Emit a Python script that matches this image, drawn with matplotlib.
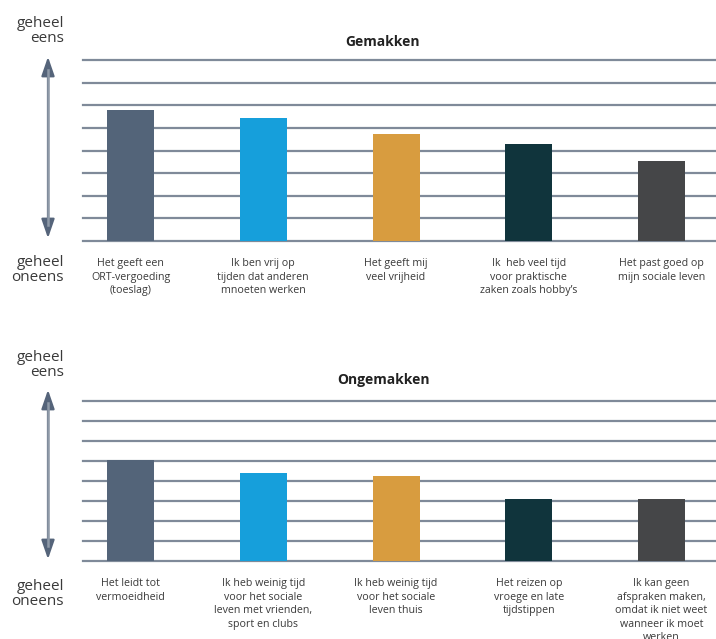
import matplotlib.pyplot as plt
from matplotlib.patches import FancyArrowPatch
from matplotlib.lines import Line2D

plt.rcParams['font.family'] = ['Open Sans', 'DejaVu Sans']

# data (scale 0..8, "geheel oneens" -> "geheel eens")
gem_labels = ['Het geeft een\nORT-vergoeding\n(toeslag)',
              'Ik ben vrij op\ntijden dat anderen\nmnoeten werken',
              'Het geeft mij\nveel vrijheid',
              'Ik  heb veel tijd\nvoor praktische\nzaken zoals hobby\u2019s',
              'Het past goed op\nmijn sociale leven']
gem_values = [5.8, 5.45, 4.73, 4.28, 3.54]

ongem_labels = ['Het leidt tot\nvermoeidheid',
                'Ik heb weinig tijd\nvoor het sociale\nleven met vrienden,\nsport en clubs',
                'Ik heb weinig tijd\nvoor het sociale\nleven thuis',
                'Het reizen op\nvroege en late\ntijdstippen',
                'Ik kan geen\nafspraken maken,\nomdat ik niet weet\nwanneer ik moet\nwerken']
ongem_values = [5.05, 4.4, 4.25, 3.1, 3.1]

kleuren = ['#536479', '#169fdb', '#d89c3f', '#10343c', '#454648']
lijn_kleur = '#7f8a99'
tekst_kleur = '#3a3a3a'

W, H = 716, 639
fig = plt.figure(figsize=(W / 100, H / 100), dpi=100)


def paneel(top_px, bot_px, titel, labels, values, titel_px, lbl_top, lbl_bot, pijl):
    ax = fig.add_axes([83 / W, 1 - bot_px / H, 633 / W, (bot_px - top_px) / H])
    ax.set_xlim(-0.358, 4.41)
    ax.set_ylim(0, 8)
    for y in range(9):
        ax.axhline(y, color=lijn_kleur, lw=1.6, zorder=1, clip_on=False)
    ax.bar(range(len(values)), values, width=0.354, color=kleuren, zorder=2)
    ax.set_xticks(range(len(labels)))
    ax.set_xticklabels(labels, fontsize=7.7, color=tekst_kleur, linespacing=1.3,
                       va='top')
    ax.tick_params(axis='x', length=0, pad=12.5)
    ax.set_yticks([])
    for s in ax.spines.values():
        s.set_visible(False)
    fig.text(383 / W, 1 - titel_px / H, titel, ha='center', va='center',
             fontsize=10, fontweight='bold', color='#222222')
    fig.text(64 / W, 1 - lbl_top / H, 'geheel\neens', ha='right', va='center',
             fontsize=11, color=tekst_kleur, linespacing=1.05)
    fig.text(64 / W, 1 - lbl_bot / H, 'geheel\noneens', ha='right', va='center',
             fontsize=11, color=tekst_kleur, linespacing=1.05)
    # pijl: donkere punten, lichtere schacht
    p = FancyArrowPatch((48 / W, 1 - pijl[0] / H), (48 / W, 1 - pijl[1] / H),
                        transform=fig.transFigure,
                        arrowstyle='<|-|>,head_length=5.8,head_width=2',
                        color='#55647a', lw=1.6, mutation_scale=2)
    fig.patches.append(p)
    fig.lines.append(Line2D([48 / W, 48 / W], [1 - (pijl[0] + 16) / H, 1 - (pijl[1] - 16) / H],
                            transform=fig.transFigure, color='#8f9aa8', lw=1.8))
    return ax


paneel(60, 241, 'Gemakken', gem_labels, gem_values, 42, 31, 270, (54, 241))
paneel(401, 561, 'Ongemakken', ongem_labels, ongem_values, 380, 365, 594, (387, 562))

plt.savefig('out.png', dpi=100)
